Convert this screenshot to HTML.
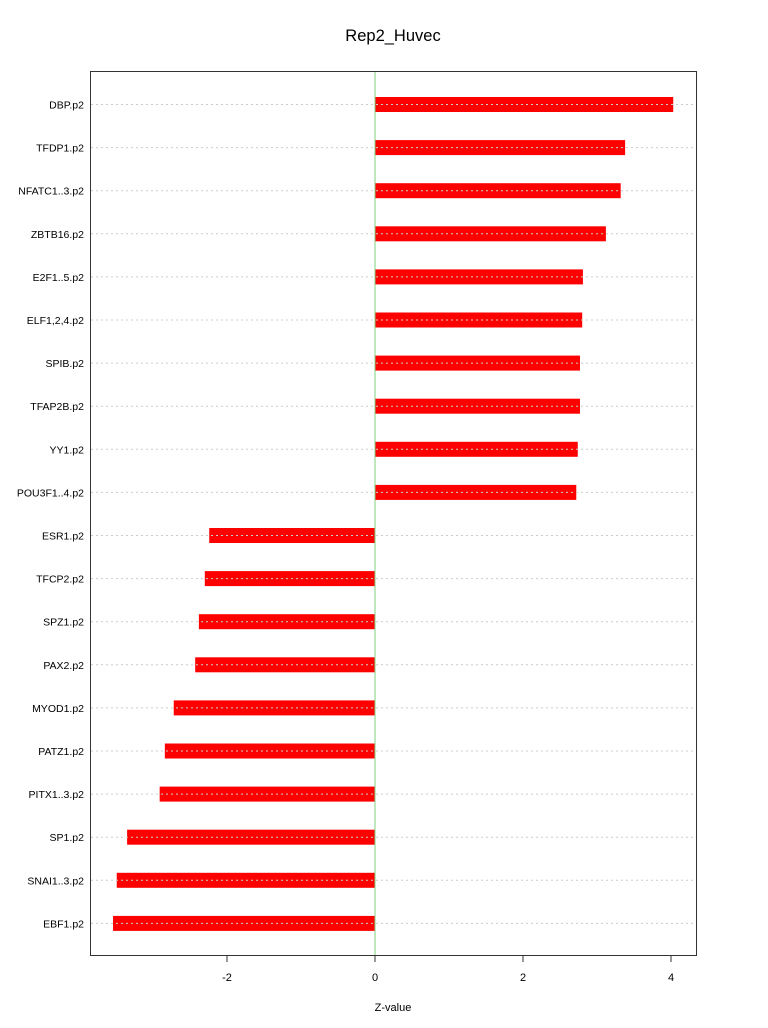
<!DOCTYPE html>
<html><head><meta charset="utf-8"><style>
body{margin:0;background:#fff;}
svg{display:block;font-family:"Liberation Sans",sans-serif;}
</style></head><body>
<svg id="c" width="768" height="1028">
<text x="393" y="41" text-anchor="middle" font-size="16.5">Rep2_Huvec</text>
<g id="plot"></g>
<rect x="90.5" y="71.5" width="606" height="884" fill="none" stroke="#333"/>
<text x="393" y="1011" text-anchor="middle" font-size="11">Z-value</text>
</svg>
<script>
const categories=["DBP.p2","TFDP1.p2","NFATC1..3.p2","ZBTB16.p2","E2F1..5.p2","ELF1,2,4.p2","SPIB.p2","TFAP2B.p2","YY1.p2","POU3F1..4.p2","ESR1.p2","TFCP2.p2","SPZ1.p2","PAX2.p2","MYOD1.p2","PATZ1.p2","PITX1..3.p2","SP1.p2","SNAI1..3.p2","EBF1.p2"];
const values=[4.03,3.38,3.32,3.12,2.81,2.80,2.77,2.77,2.74,2.72,-2.24,-2.30,-2.38,-2.43,-2.72,-2.84,-2.91,-3.35,-3.49,-3.54];
const xTicks=[-2,0,2,4];
const NS="http://www.w3.org/2000/svg";
const g=document.getElementById('plot');
const x=v=>375+v*74;
const y=i=>104.5+i*43.1;
function mk(t,a){const e=document.createElementNS(NS,t);for(const k in a)e.setAttribute(k,a[k]);g.appendChild(e);return e;}
categories.forEach((c,i)=>{
  const v=values[i];
  const r=mk('rect',{x:Math.min(x(0),x(v)),y:y(i)-7.5,width:Math.abs(x(v)-x(0)),height:15,fill:'#ff0000'});
  
  
  const l=mk('line',{x1:91,x2:696,y1:y(i),y2:y(i),stroke:'#ccc','stroke-dasharray':'2,3'});
  
  
  const t=mk('text',{x:84,y:y(i)+4,'text-anchor':'end','font-size':'10.5'});
  t.textContent=c;
  
  
});
const z=mk('line',{x1:x(0),x2:x(0),y1:72,y2:955,stroke:'#7fd07f'});


xTicks.forEach(v=>{
  const tk=mk('line',{x1:x(v),x2:x(v),y1:955,y2:962,stroke:'#333'});
  
  
  const t=mk('text',{x:x(v),y:981,'text-anchor':'middle','font-size':'11'});
  t.textContent=v;
  
  
});
</script>
</body></html>
